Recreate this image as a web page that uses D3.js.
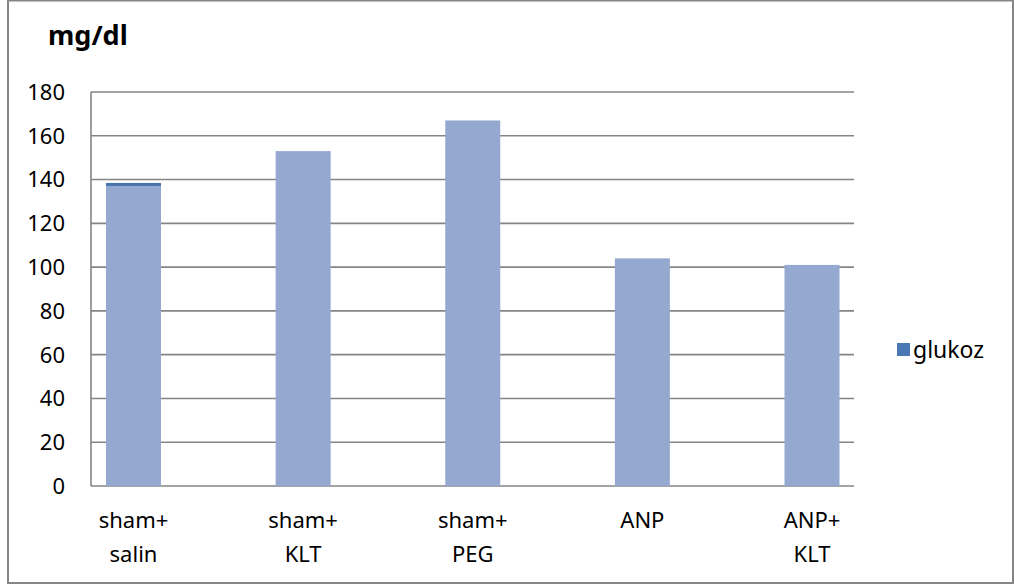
<!DOCTYPE html>
<html>
<head>
<meta charset="utf-8">
<script src="https://cdn.jsdelivr.net/npm/d3@7"></script>
<style>
  body { margin: 0; background: #fff; }
  text { font-family: "Noto Sans", sans-serif; fill: #000; }
</style>
</head>
<body>
<script>
// chart values
const categories = [["sham+", "salin"], ["sham+", "KLT"], ["sham+", "PEG"], ["ANP"], ["ANP+", "KLT"]];
const glukoz = [138, 153, 167, 104, 101];
const yTicks = [0, 20, 40, 60, 80, 100, 120, 140, 160, 180];
const seriesName = "glukoz";
const unitLabel = "mg/dl";

const W = 1014, H = 586;
const plot = {left: 91, right: 854, top: 92, bottom: 486};

const svg = d3.select("body").append("svg")
  .attr("width", W).attr("height", H);

// outer frame
svg.append("rect")
  .attr("x", 8).attr("y", 0.5)
  .attr("width", 1005).attr("height", 582.5)
  .attr("fill", "#fff").attr("stroke", "#868686").attr("stroke-width", 2);

const y = d3.scaleLinear().domain([0, 180]).range([plot.bottom, plot.top]);
const x = d3.scalePoint()
  .domain(d3.range(categories.length))
  .range([133.5, 812]);
const barW = 55;

// gridlines
svg.append("g")
  .selectAll("line")
  .data(yTicks)
  .join("line")
    .attr("x1", plot.left).attr("x2", plot.right)
    .attr("y1", d => y(d)).attr("y2", d => y(d))
    .attr("stroke", "#858585").attr("stroke-width", 1.6);

// left axis line
svg.append("line")
  .attr("x1", plot.left).attr("x2", plot.left)
  .attr("y1", plot.top).attr("y2", plot.bottom)
  .attr("stroke", "#858585").attr("stroke-width", 1.6);

// y tick labels
svg.append("g")
  .selectAll("text")
  .data(yTicks)
  .join("text")
    .attr("x", 65).attr("y", d => y(d))
    .attr("dy", "0.36em")
    .attr("text-anchor", "end")
    .style("font-size", "22px")
    .text(d => d);

// bars
svg.append("g")
  .selectAll("rect")
  .data(glukoz)
  .join("rect")
    .attr("x", (d, i) => x(i) - barW / 2)
    .attr("y", d => y(d))
    .attr("width", barW)
    .attr("height", d => y(0) - y(d))
    .attr("fill", "#95a9d0");

// darker top edge on the first bar
svg.append("rect")
  .attr("x", x(0) - barW / 2).attr("y", y(glukoz[0]) - 1)
  .attr("width", barW).attr("height", 3)
  .attr("fill", "#4874ad");

// x labels
const xl = svg.append("g")
  .selectAll("text")
  .data(categories)
  .join("text")
    .attr("x", (d, i) => x(i))
    .attr("y", 528)
    .attr("text-anchor", "middle")
    .style("font-size", "22px");
xl.selectAll("tspan")
  .data(d => d)
  .join("tspan")
    .attr("x", function() { return this.parentNode.getAttribute("x"); })
    .attr("dy", (d, i) => i === 0 ? 0 : 34)
    .text(d => d);

// title
svg.append("text")
  .attr("x", 48).attr("y", 45)
  .style("font-size", "27px").style("font-weight", "bold")
  .text(unitLabel);

// legend
svg.append("rect")
  .attr("x", 897).attr("y", 343)
  .attr("width", 13).attr("height", 13)
  .attr("fill", "#4a78b4");
svg.append("text")
  .attr("x", 913).attr("y", 350)
  .attr("dy", "0.36em")
  .style("font-size", "23px")
  .text(seriesName);
</script>
</body>
</html>
